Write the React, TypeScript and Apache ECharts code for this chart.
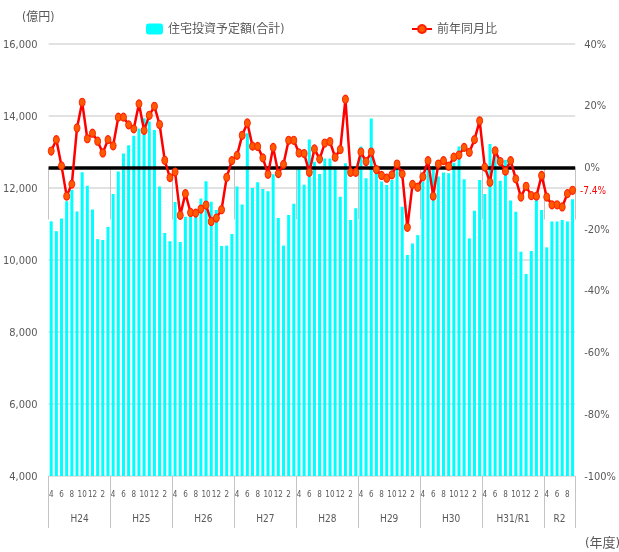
import React, { useEffect, useRef } from 'react';
import * as echarts from 'echarts';

const fiscalYears = ['H24', 'H25', 'H26', 'H27', 'H28', 'H29', 'H30', 'H31/R1', 'R2'];
const monthsPerYear = [12, 12, 12, 12, 12, 12, 12, 12, 6];
const monthOrder = [4, 5, 6, 7, 8, 9, 10, 11, 12, 1, 2, 3];

// 住宅投資予定額(合計) 億円
const investment = [
  11075, 10800, 11150, 11630, 11950, 11350, 12440, 12060, 11400, 10580, 10555, 10920,
  11830, 12455, 12960, 13190, 13450, 13650, 13940, 13850, 13610, 12040, 10750, 10520,
  11610, 10500, 11200, 11250, 11300, 11710, 12190, 11620, 11390, 10390, 10400, 10720,
  12040, 11540, 13520, 12000, 12160, 11970, 11910, 12380, 11170, 10400, 11250, 11560,
  12570, 12090, 13350, 12730, 12390, 12820, 12820, 12590, 11760, 12690, 11110, 11440,
  13150, 12270, 13930, 12570, 12180, 12080, 12220, 12590, 11480, 10140, 10460, 10690,
  12180, 12690, 12610, 12320, 12430, 12410, 12700, 13150, 12240, 10600, 11370, 12220,
  11830, 13220, 13010, 12200, 12780, 11650, 11340, 10230, 9610, 10250, 11850, 11390,
  10350, 11070, 11070, 11110, 11070, 11690,
];

// 前年同月比 %
const yoy = [
  5.3, 9.0, 0.5, -9.3, -5.4, 12.8, 21.1, 9.3, 11.1, 8.5, 4.7, 9.0,
  7.0, 16.3, 16.3, 13.8, 12.5, 20.6, 12.0, 16.9, 19.8, 13.9, 2.3, -3.3,
  -1.5, -15.5, -8.5, -14.6, -14.8, -13.5, -12.2, -17.5, -16.4, -13.7, -3.2, 2.2,
  3.9, 10.4, 14.4, 6.9, 6.8, 3.1, -2.2, 6.5, -2.0, 1.0, 8.8, 8.8,
  4.7, 4.5, -1.6, 6.0, 2.7, 7.9, 8.4, 3.3, 5.8, 22.1, -1.6, -1.6,
  5.0, 1.9, 5.0, -0.7, -2.6, -3.5, -2.4, 1.1, -2.1, -19.4, -5.5, -6.4,
  -3.0, 2.2, -9.3, 1.1, 2.2, 0.4, 3.3, 4.0, 6.5, 4.9, 9.0, 15.1,
  0.1, -4.8, 5.4, 1.9, -1.2, 2.2, -3.7, -9.6, -6.1, -9.1, -9.3, -2.6,
  -9.6, -12.1, -12.1, -12.8, -8.5, -7.4,
];

const leftAxis = { min: 4000, max: 16000, interval: 2000 };
const rightAxis = { min: -100, max: 40, interval: 20 };

const FONT = "'Liberation Sans Narrow', 'DejaVu Sans Condensed', 'Liberation Sans', 'Noto Sans CJK JP', sans-serif";
const GRAY = '#595959';

export default function App() {
  const ref = useRef<HTMLDivElement>(null);

  useEffect(() => {
    if (!ref.current) return;
    const chart = echarts.init(ref.current, undefined, { renderer: 'svg' });

    const categories: string[] = [];
    const yearStarts = new Set<number>();
    const yearMids = new Set<number>();
    let idx = 0;
    fiscalYears.forEach((fy, y) => {
      const n = monthsPerYear[y];
      yearStarts.add(idx);
      yearMids.add(idx + Math.floor((n - 1) / 2));
      for (let k = 0; k < n; k++) categories.push(`${fy}-${monthOrder[k]}`);
      idx += n;
    });

    const lastIdx = yoy.length - 1;
    const yoyData = yoy.map((v, i) =>
      i === lastIdx
        ? {
            value: v,
            label: {
              show: true,
              position: 'right',
              distance: 4,
              formatter: `${v}%`,
              color: '#FF0000',
              fontSize: 10,
              fontFamily: FONT,
            },
          }
        : v
    );

    chart.setOption({
      animation: false,
      textStyle: { fontFamily: FONT },
      grid: { left: 48, right: 31, top: 44, bottom: 76, containLabel: false },
      legend: [
        {
          data: ['住宅投資予定額(合計)'],
          left: 141,
          top: 18,
          itemWidth: 17,
          itemHeight: 11,
          textStyle: { fontSize: 12, color: GRAY, fontFamily: FONT },
        },
        {
          data: ['前年同月比'],
          left: 406,
          top: 18,
          itemWidth: 20,
          itemHeight: 10,
          textStyle: { fontSize: 12, color: GRAY, fontFamily: FONT },
        },
      ],
      xAxis: [
        {
          type: 'category',
          data: categories,
          position: 'bottom',
          axisLine: { show: true, lineStyle: { color: '#d0d0d0', width: 1 } },
          axisTick: {
            show: true,
            interval: (i: number) => yearStarts.has(i),
            length: 52,
            lineStyle: { color: '#c4c4c4', width: 1 },
          },
          axisLabel: {
            interval: 1,
            formatter: (v: string) => v.split('-')[1],
            fontSize: 8,
            color: GRAY,
            margin: 14,
          },
          splitLine: { show: false },
        },
        {
          type: 'category',
          data: categories,
          position: 'bottom',
          offset: 0,
          axisLine: { show: false },
          axisTick: {
            show: true,
            interval: (i: number) => yearStarts.has(i),
            length: 52,
            lineStyle: { color: '#c4c4c4', width: 1 },
          },
          axisLabel: {
            interval: (i: number) => yearMids.has(i),
            formatter: (v: string) => v.split('-')[0],
            fontSize: 10,
            color: GRAY,
            margin: 37,
            padding: [0, 0, 0, 5],
          },
          splitLine: { show: false },
        },
      ],
      yAxis: [
        {
          type: 'value',
          min: leftAxis.min,
          max: leftAxis.max,
          interval: leftAxis.interval,
          axisLine: { show: false },
          axisTick: { show: false },
          axisLabel: {
            formatter: (v: number) => v.toLocaleString('en-US'),
            fontSize: 11,
            color: GRAY,
            margin: 11,
          },
          splitLine: { show: true, lineStyle: { color: '#d9d9d9', width: 1.5 } },
        },
        {
          type: 'value',
          min: rightAxis.min,
          max: rightAxis.max,
          interval: rightAxis.interval,
          axisLine: { show: false },
          axisTick: { show: false },
          axisLabel: {
            formatter: (v: number) => `${v}%`,
            fontSize: 11,
            color: GRAY,
            margin: 9,
          },
          splitLine: { show: false },
        },
      ],
      series: [
        {
          name: '住宅投資予定額(合計)',
          type: 'bar',
          xAxisIndex: 0,
          yAxisIndex: 0,
          data: investment,
          barWidth: 3,
          itemStyle: { color: '#00FFFF' },
          z: 2,
        },
        {
          name: '_zero',
          type: 'line',
          xAxisIndex: 0,
          yAxisIndex: 1,
          data: [],
          z: 3,
          markLine: {
            silent: true,
            symbol: ['none', 'none'],
            label: { show: false },
            lineStyle: { color: '#000000', width: 3.5, type: 'solid' },
            data: [{ yAxis: 0 }],
          },
        },
        {
          name: '前年同月比',
          type: 'line',
          xAxisIndex: 0,
          yAxisIndex: 1,
          data: yoyData,
          z: 5,
          symbol: 'circle',
          symbolSize: [6, 8],
          showAllSymbol: true,
          lineStyle: { color: '#FF0000', width: 2.5 },
          itemStyle: { color: '#FF5A00', borderColor: '#FF2000', borderWidth: 1 },
        },
      ],
      graphic: [
        {
          type: 'text',
          left: 22,
          top: 11,
          style: { text: '(億円)', fontSize: 12, fill: GRAY, fontFamily: FONT },
        },
        {
          type: 'text',
          left: 585,
          top: 536,
          style: { text: '(年度)', fontSize: 13, fill: GRAY, fontFamily: FONT },
        },
      ],
    });

    return () => chart.dispose();
  }, []);

  return (
    <div
      ref={ref}
      style={{ position: 'fixed', left: 0, top: 0, width: 619, height: 552 }}
    />
  );
}
